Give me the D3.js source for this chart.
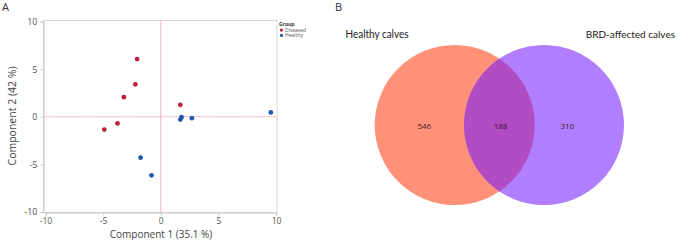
<!DOCTYPE html>
<html>
<head>
<meta charset="utf-8">
<script src="https://cdn.jsdelivr.net/npm/d3@7"></script>
<style>
  body { margin: 0; background: #fff; }
  svg { display: block; font-family: "Open Sans", "DejaVu Sans", sans-serif; }
</style>
</head>
<body>
<div id="chart"></div>
<script>
// Dữ liệu PCA
var diseasedX = [-2.05, -2.2, -3.2, 1.7, -3.75, -4.9];
var diseasedY = [6.05, 3.4, 2.05, 1.25, -0.7, -1.35];
var healthyX  = [9.55, 2.7, 1.8, 1.7, -1.75, -0.8];
var healthyY  = [0.45, -0.15, -0.05, -0.3, -4.3, -6.15];
var groups    = ["Diseased", "Healthy"];
var groupColors = ["#c0203a", "#1f56b0"];
var ticks     = [-10, -5, 0, 5, 10];

// Dữ liệu Venn
var vennSets   = ["Healthy calves", "BRD-affected calves"];
var vennCounts = [546, 188, 310];

var svg = d3.select("#chart").append("svg")
  .attr("width", 677).attr("height", 240);

// Nhãn panel
svg.append("text").attr("x", 2).attr("y", 11).attr("font-size", 11).attr("fill", "#333").text("A");
svg.append("text").attr("x", 335).attr("y", 11).attr("font-size", 11).attr("fill", "#333").text("B");

// ---- Panel A: biểu đồ phân tán ----
var x = d3.scaleLinear().domain([-10, 10]).range([45.5, 276]);
var y = d3.scaleLinear().domain([-10, 10]).range([212, 21.5]);

var g = svg.append("g");

// Khung
g.append("rect")
  .attr("x", 43.5).attr("y", 20.5)
  .attr("width", 277 - 43.5).attr("height", 212.5 - 20.5)
  .attr("fill", "none").attr("stroke", "#d8d8d8").attr("stroke-width", 1);

// Đường tham chiếu
g.append("line")
  .attr("x1", 43.5).attr("x2", 277).attr("y1", y(0)).attr("y2", y(0))
  .attr("stroke", "#f39aac").attr("stroke-width", 1).attr("stroke-dasharray", "1.5,1");
g.append("line")
  .attr("x1", x(0)).attr("x2", x(0)).attr("y1", 20.5).attr("y2", 212.5)
  .attr("stroke", "#f6b3c0").attr("stroke-width", 1);

// Trục X
var xAxis = g.append("g")
  .attr("transform", "translate(0,212.5)")
  .call(d3.axisBottom(x).tickValues(ticks).tickSize(3).tickPadding(2.5).tickFormat(d => d));
xAxis.select(".domain").attr("stroke", "#c8c8c8");
xAxis.selectAll(".tick line").attr("stroke", "#c8c8c8");
xAxis.selectAll("text").attr("font-size", 8.5).attr("fill", "#555")
  .attr("font-family", "Open Sans, sans-serif");

// Trục Y
var yAxis = g.append("g")
  .attr("transform", "translate(43.5,0)")
  .call(d3.axisLeft(y).tickValues(ticks).tickSize(3).tickFormat(d => d));
yAxis.select(".domain").attr("stroke", "#c8c8c8");
yAxis.selectAll(".tick line").attr("stroke", "#c8c8c8");
yAxis.selectAll("text").attr("font-size", 9).attr("fill", "#555")
  .attr("font-family", "Open Sans, sans-serif");

// Tên trục
g.append("text").attr("x", 161).attr("y", 237.5).attr("text-anchor", "middle")
  .attr("font-size", 10).attr("fill", "#444").text("Component 1  (35.1 %)");
g.append("text").attr("transform", "translate(16,116) rotate(-90)").attr("text-anchor", "middle")
  .attr("font-size", 10.5).attr("fill", "#444").text("Component 2  (42 %)");

// Điểm
var pts = diseasedX.map((v, i) => ({ x: v, y: diseasedY[i], grp: 0 }))
  .concat(healthyX.map((v, i) => ({ x: v, y: healthyY[i], grp: 1 })));
g.selectAll(".pt").data(pts).enter().append("circle")
  .attr("class", "pt")
  .attr("cx", d => x(d.x)).attr("cy", d => y(d.y)).attr("r", 2.4)
  .attr("fill", d => groupColors[d.grp]);

// Chú thích
var leg = g.append("g").attr("transform", "translate(279,25.5)");
leg.append("text").attr("x", 0).attr("y", 0).attr("font-size", 5)
  .attr("font-weight", "bold").attr("fill", "#333").text("Group");
groups.forEach(function(name, i) {
  leg.append("circle").attr("cx", 2.5).attr("cy", 4.6 + i * 5.3).attr("r", 1.6).attr("fill", groupColors[i]);
  leg.append("text").attr("x", 6).attr("y", 6.3 + i * 5.3).attr("font-size", 5)
    .attr("fill", "#555").text(name);
});

// ---- Panel B: biểu đồ Venn ----
var r = 80, cy = 125;
var cxs = [454.7, 544];
var vennColors = ["#ff9178", "#b07eff"];

var defs = svg.append("defs");
defs.append("clipPath").attr("id", "clipL")
  .append("circle").attr("cx", cxs[0]).attr("cy", cy).attr("r", r);

svg.selectAll(".venn").data(cxs).enter().append("circle")
  .attr("class", "venn")
  .attr("cx", d => d).attr("cy", cy).attr("r", r)
  .attr("fill", (d, i) => vennColors[i]);

svg.append("circle")
  .attr("cx", cxs[1]).attr("cy", cy).attr("r", r)
  .attr("clip-path", "url(#clipL)")
  .attr("fill", "#b24cc2");

// Số liệu
var labelX = [424.3, 500.5, 567.3];
svg.selectAll(".cnt").data(vennCounts).enter().append("text")
  .attr("class", "cnt")
  .attr("x", (d, i) => labelX[i]).attr("y", 129)
  .attr("text-anchor", "middle").attr("font-size", 8)
  .attr("fill", (d, i) => i === 1 ? "#3a1040" : "#402020")
  .text(d => d);

// Tên tập hợp
svg.append("text").attr("x", 345.5).attr("y", 38).attr("font-size", 10.5)
  .attr("font-family", "Lato, sans-serif")
  .attr("textLength", 63).attr("lengthAdjust", "spacingAndGlyphs")
  .attr("fill", "#222").text(vennSets[0]);
svg.append("text").attr("x", 675).attr("y", 38).attr("font-size", 10)
  .attr("text-anchor", "end")
  .attr("font-family", "Lato, sans-serif")
  .attr("fill", "#222").text(vennSets[1]);
</script>
</body>
</html>
